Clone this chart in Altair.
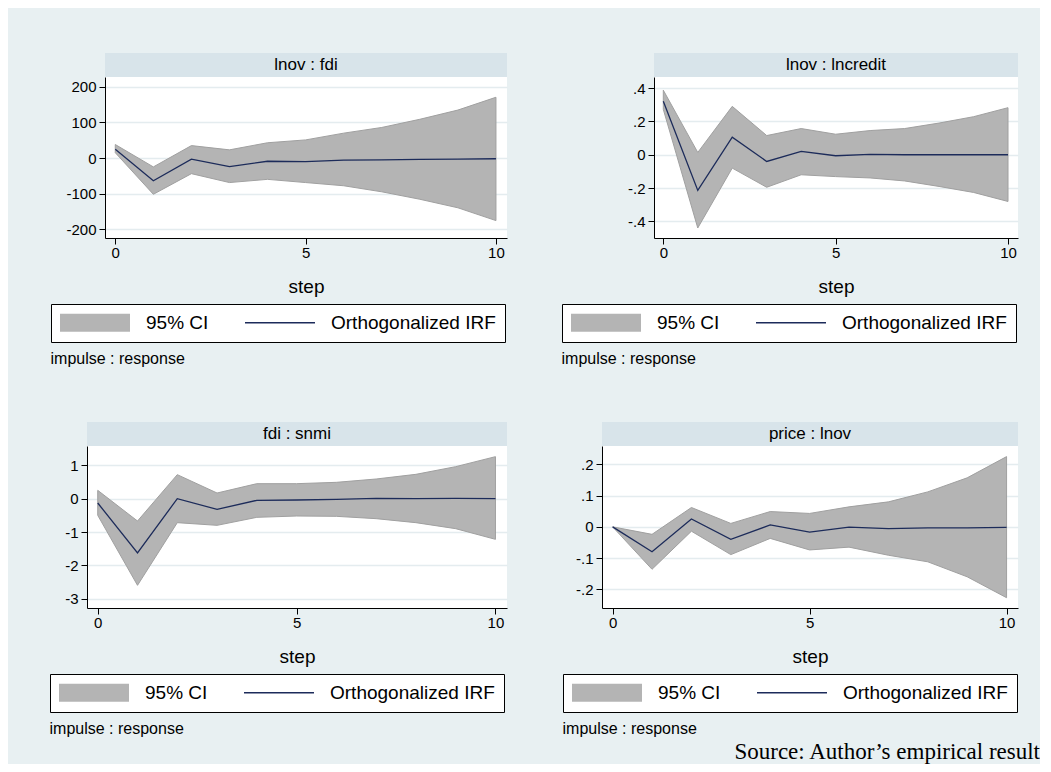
import altair as alt
import pandas as pd

FONT = "Liberation Sans"
BG = "#e8f0f2"
STRIP = "#d8e4ea"
CI_FILL = "#b4b4b4"
CI_EDGE = "#a0a0a0"
IRF_COL = "#1c2b5a"

steps = [0, 1, 2, 3, 4, 5, 6, 7, 8, 9, 10]
series_names = ["95% CI", "Orthogonalized IRF"]
panel_titles = ["lnov : fdi", "lnov : lncredit", "fdi : snmi", "price : lnov"]
note_text = "impulse : response"
source_text = "Source: Author\u2019s empirical result"

# Panel 1: lnov : fdi
p1_irf = [25, -64, -3, -24, -9, -10, -6, -5, -4, -3, -2]
p1_lo = [15, -102, -44, -69, -60, -69, -78, -95, -116, -140, -176]
p1_hi = [38, -25, 35, 23, 43, 51, 70, 86, 109, 135, 171]
p1_ticks = [-200, -100, 0, 100, 200]

# Panel 2: lnov : lncredit
p2_irf = [0.32, -0.214, 0.105, -0.04, 0.02, -0.006, 0.002, 0.0, 0.0, 0.0, 0.0]
p2_lo = [0.272, -0.439, -0.08, -0.195, -0.12, -0.131, -0.139, -0.157, -0.19, -0.226, -0.28]
p2_hi = [0.387, 0.014, 0.29, 0.115, 0.157, 0.123, 0.145, 0.157, 0.19, 0.228, 0.282]
p2_ticks = [-0.4, -0.2, 0, 0.2, 0.4]

# Panel 3: fdi : snmi
p3_irf = [-0.13, -1.63, 0.0, -0.32, -0.05, -0.04, -0.02, 0.01, 0.0, 0.01, 0.0]
p3_lo = [-0.5, -2.6, -0.72, -0.8, -0.56, -0.52, -0.53, -0.6, -0.72, -0.9, -1.22]
p3_hi = [0.25, -0.67, 0.72, 0.17, 0.45, 0.45, 0.49, 0.59, 0.73, 0.96, 1.26]
p3_ticks = [-3, -2, -1, 0, 1]

# Panel 4: price : lnov
p4_irf = [0.0, -0.08, 0.025, -0.04, 0.006, -0.017, -0.001, -0.006, -0.003, -0.003, -0.002]
p4_lo = [0.0, -0.136, -0.014, -0.089, -0.037, -0.074, -0.065, -0.091, -0.112, -0.16, -0.227]
p4_hi = [0.0, -0.024, 0.062, 0.011, 0.049, 0.043, 0.064, 0.08, 0.112, 0.157, 0.225]
p4_ticks = [-0.2, -0.1, 0, 0.1, 0.2]

# legend key shapes (custom symbol paths)
RECT_PATH = "M-1,-0.947L6.368,-0.947L6.368,0.947L-1,0.947Z"
LINE_PATH = "M-1,-0.08L6.368,-0.08L6.368,0.08L-1,0.08Z"

LABEL_EXPR = "replace(replace(format(datum.value, '.1~f'), '\u2212', '-'), '0.', '.')"


def panel(title, irf, lo, hi, yticks, ydom, width, height, leg_x, leg_y):
    df = pd.DataFrame({"step": steps, "irf": irf, "lo": lo, "hi": hi})
    xs = alt.Scale(domain=[-0.27, 10.29], nice=False, zero=False)
    ys = alt.Scale(domain=ydom, nice=False, zero=False)
    xaxis = alt.Axis(values=[0, 5, 10], title="step", grid=False, format="d")
    yaxis = alt.Axis(values=yticks, title=None, grid=True, labelExpr=LABEL_EXPR)
    base = alt.Chart(df)
    band = base.mark_area(fill=CI_FILL, stroke=CI_EDGE, strokeWidth=1, opacity=1).encode(
        x=alt.X("step:Q", scale=xs, axis=xaxis),
        y=alt.Y("lo:Q", scale=ys, axis=yaxis),
        y2="hi:Q",
    )
    line = base.mark_line(color=IRF_COL, strokeWidth=1.3).encode(
        x="step:Q", y="irf:Q"
    )
    leg = alt.Legend(
        orient="none", legendX=leg_x, legendY=leg_y, direction="horizontal",
        title=None, fillColor="white", strokeColor="black", padding=9,
        labelFont=FONT, labelFontSize=19, labelColor="black", labelOffset=67,
        labelLimit=400, columnPadding=36, symbolSize=361, symbolStrokeWidth=0,
        symbolOpacity=1,
    )
    key = base.transform_filter("false").transform_calculate(
        series="'95% CI'"
    ).mark_point(filled=True, opacity=1).encode(
        x="step:Q", y="irf:Q",
        color=alt.Color("series:N", scale=alt.Scale(domain=series_names, range=[CI_FILL, IRF_COL]), legend=leg),
        shape=alt.Shape("series:N", scale=alt.Scale(domain=series_names, range=[RECT_PATH, LINE_PATH]), legend=leg),
    )
    plot = alt.layer(band, line, key).properties(
        width=width, height=height,
        view=alt.ViewBackground(fill="white", stroke=None),
        title=alt.TitleParams(note_text, orient="bottom", anchor="start", frame="bounds",
                              font=FONT, fontSize=16, fontWeight="normal", color="black", offset=8),
    )
    head = alt.Chart(pd.DataFrame({"h": [title]})).mark_text(
        font=FONT, fontSize=17, color="black"
    ).encode(text="h:N").properties(
        width=width, height=24, view=alt.ViewBackground(fill=STRIP, stroke=None)
    )
    return alt.vconcat(head, plot, spacing=0).resolve_scale(
        color="independent", shape="independent", x="independent", y="independent"
    )


def gap(w):
    # empty spacer cell, same colour as the background
    return alt.Chart(pd.DataFrame({"s": [0]})).mark_rect(opacity=0).properties(
        width=w, height=1, view=alt.ViewBackground(fill=BG, stroke=None)
    )


def indep(c):
    return c.resolve_scale(color="independent", shape="independent", x="independent", y="independent")


p1 = panel(panel_titles[0], p1_irf, p1_lo, p1_hi, p1_ticks, [-225, 228], 402, 161, -54, 227)
p2 = panel(panel_titles[1], p2_irf, p2_lo, p2_hi, p2_ticks, [-0.499, 0.466], 364, 161, -92, 227)
p3 = panel(panel_titles[2], p3_irf, p3_lo, p3_hi, p3_ticks, [-3.28, 1.58], 420, 162, -37, 228)
p4 = panel(panel_titles[3], p4_irf, p4_lo, p4_hi, p4_ticks, [-0.26, 0.259], 416, 162, -39, 228)

row1 = indep(alt.hconcat(gap(42), p1, gap(54), p2, spacing=0))
row2 = indep(alt.hconcat(gap(41), p3, gap(55), p4, spacing=0))

chart = indep(alt.vconcat(row1, row2, spacing=55)).properties(
    title=alt.TitleParams(source_text, orient="bottom", anchor="end", frame="bounds",
                          font="Liberation Serif", fontSize=23, fontWeight="normal",
                          color="black", offset=4, dx=22),
    padding={"left": 0, "top": 45, "right": 0, "bottom": 0},
    background=BG,
).configure_axis(
    domainColor="black", domainWidth=1, tickColor="black", tickSize=6, tickWidth=1,
    labelColor="black", labelFont=FONT, labelFontSize=15,
    titleFont=FONT, titleColor="black", titleFontWeight="normal",
    gridColor="#e4ecef", gridWidth=1.5,
).configure_axisX(
    titleFontSize=19, titlePadding=17, labelPadding=1,
).configure_axisY(
    labelPadding=3,
)

chart.save("out.html", embed_options={"renderer": "svg", "actions": False})
